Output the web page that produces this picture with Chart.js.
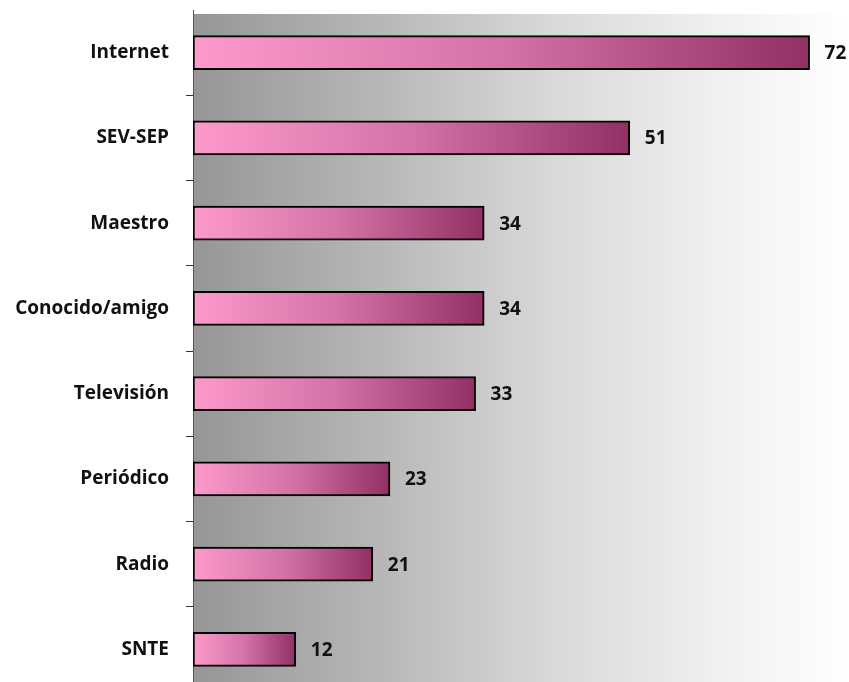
<!DOCTYPE html>
<html>
<head>
<meta charset="utf-8">
<script src="https://cdn.jsdelivr.net/npm/chart.js@4/dist/chart.umd.min.js"></script>
<style>
  html, body { margin: 0; padding: 0; background: #fff; overflow: hidden; }
  canvas { display: block; }
</style>
</head>
<body>
<canvas id="fuentes" width="849" height="692"></canvas>
<script>
const categories = ["Internet", "SEV-SEP", "Maestro", "Conocido/amigo", "Televisión", "Periódico", "Radio", "SNTE"];
const values = [72, 51, 34, 34, 33, 23, 21, 12];

const labelFont = { family: "'Open Sans', sans-serif", size: 19, weight: "bold" };

// gray-to-white background behind the plot
const backdrop = {
    id: "backdrop",
    beforeDraw(chart) {
        const { ctx, chartArea } = chart;
        const g = ctx.createLinearGradient(chartArea.left, 0, chartArea.right, 0);
        g.addColorStop(0, "#969696");
        g.addColorStop(0.3, "#b9b9b9");
        g.addColorStop(0.55, "#d9d9d9");
        g.addColorStop(0.8, "#f0f0f0");
        g.addColorStop(1, "#ffffff");
        ctx.save();
        ctx.fillStyle = g;
        ctx.fillRect(chartArea.left, 14, chartArea.right - chartArea.left, chartArea.bottom - 14);
        ctx.restore();
    }
};

// value numbers to the right of each bar
const valueLabels = {
    id: "valueLabels",
    afterDatasetsDraw(chart) {
        const { ctx } = chart;
        const meta = chart.getDatasetMeta(0);
        ctx.save();
        ctx.font = "bold 19px 'Open Sans', sans-serif";
        ctx.fillStyle = "#111";
        ctx.textAlign = "left";
        ctx.textBaseline = "middle";
        meta.data.forEach((bar, i) => {
            ctx.fillText(values[i], bar.x + 15, bar.y + 1);
        });
        ctx.restore();
    }
};

function barFill(context) {
    const chart = context.chart;
    if (!chart.chartArea) return "#f99ac8";
    const x = chart.scales.x;
    const v = context.raw;
    const x0 = x.getPixelForValue(0);
    const x1 = x.getPixelForValue(v);
    const g = chart.ctx.createLinearGradient(x0, 0, x1, 0);
    g.addColorStop(0, "#fd9acb");
    g.addColorStop(0.5, "#d373a6");
    g.addColorStop(1, "#923064");
    return g;
}

const ctx = document.getElementById("fuentes").getContext("2d");
const chart = new Chart(ctx, {
    type: "bar",
    data: {
        labels: categories,
        datasets: [{
            data: values,
            backgroundColor: barFill,
            borderColor: "#000",
            borderWidth: 2,
            borderSkipped: false,
            barThickness: 34
        }]
    },
    options: {
        indexAxis: "y",
        responsive: false,
        animation: false,
        layout: { padding: { top: 10, right: 0, bottom: 0, left: 0 } },
        plugins: {
            legend: { display: false },
            tooltip: { enabled: false }
        },
        scales: {
            x: {
                display: false,
                min: 0,
                max: 76.6
            },
            y: {
                afterFit(scale) {
                    scale.width = 193;
                    scale.paddingTop = 0;
                    scale.paddingBottom = 0;
                },
                border: { display: true, color: "#555", width: 1 },
                grid: {
                    drawOnChartArea: false,
                    drawTicks: true,
                    tickLength: 7,
                    color: (c) => c.index === 0 ? "rgba(0,0,0,0)" : "#333"
                },
                ticks: {
                    color: "#111",
                    font: labelFont,
                    padding: 17
                }
            }
        }
    },
    plugins: [backdrop, valueLabels]
});
</script>
</body>
</html>
